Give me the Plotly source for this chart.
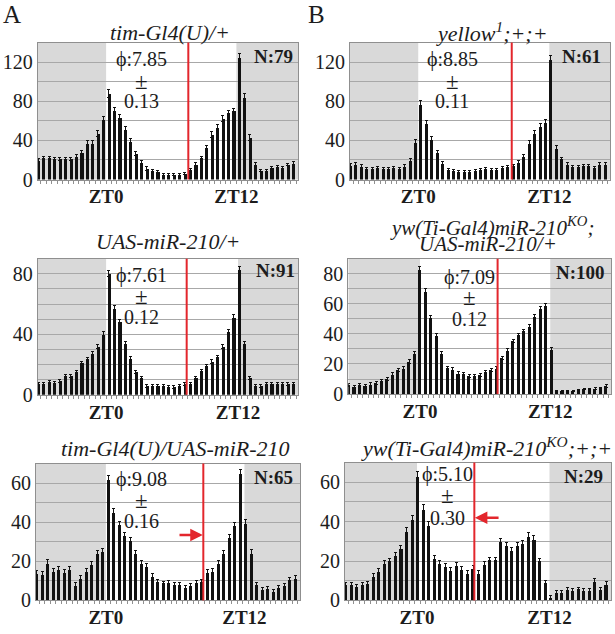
import plotly.graph_objects as go

W, H = 615, 634

# 30-min bins, ZT hours (bar positions)
zt_bins = [-6.5 + 0.5 * i for i in range(48)]

# ---- activity values (counts per 30 min) ----
tim_gl4 = [19, 22, 22, 21, 21, 21, 21, 24, 28, 37, 37, 47, 61,
           88,
           71, 63, 51, 39, 27, 17, 11, 9, 8, 5,
           5, 5, 5, 6, 10, 15, 22, 33, 46, 53,
           62, 68, 70, 125, 84, 43, 15, 9, 9, 12,
           13, 12, 15, 16]
yellow = [14, 15, 13, 11, 11, 12, 11, 11, 12, 11, 13, 19, 38,
          77,
          57, 41, 28, 16, 10, 9, 8, 8, 8, 9,
          10, 11, 10, 10, 12, 13, 14, 17, 24, 37,
          47, 54, 58, 123, 32, 21, 15, 13, 13, 14,
          14, 12, 15, 15]
uas_mir = [7, 7, 8.5, 8, 9, 12.5, 12.5, 15, 21, 23.5, 27, 32, 40,
           80,
           57, 48, 34, 24, 15, 11, 6, 6, 6, 6,
           5, 5, 6, 7, 7, 11, 16, 19, 22, 25,
           32, 42, 51, 83, 34, 11, 6, 6, 7, 7,
           7, 7, 7, 7]
ko_rescue = [6, 5, 6, 5.4, 6.5, 7.6, 8.7, 10, 13, 16.3, 17, 21.5, 26.7,
             83,
             68, 51, 38.7, 27, 17.6, 16.5, 13.7, 13.3, 12, 12,
             12.6, 14.8, 15.9, 17, 24, 29, 35.4, 39.3, 42, 45,
             51.7, 56.5, 58.7, 29.6, 2, 2, 2, 2, 2.6, 3.3,
             3.3, 3.7, 4, 5.6]
tim_uas = [13.9, 13.4, 19, 15, 16, 14.4, 16, 7.5, 11, 15, 18.5, 24, 25,
           62,
           45, 39, 33, 30.6, 24, 19, 17.3, 12.2, 9.7, 8.9,
           9.2, 8, 8, 6.4, 7.7, 9.4, 9.7, 14.2, 14.7, 19,
           24, 32.3, 38.2, 65, 39.4, 24, 8, 5.5, 5.9, 4.7,
           6.4, 7.7, 10.5, 11.4]
ko = [8, 8, 7.2, 8, 8.8, 12, 14.7, 18.8, 20, 23, 26.3, 35, 41.3,
      63,
      46, 38, 21.3, 18.8, 17, 15, 17.5, 15.5, 13.5, 16.3,
      13.8, 18.3, 20.5, 20.5, 30, 28, 25.5, 28, 29, 32.5,
      31, 20, 9, 1.3, 3.8, 3.8, 5.5, 5, 5.8, 5,
      5, 9.7, 5.5, 8.3]

# ---- error (SEM) values ----
err_tim_gl4 = [2, 2, 2, 2, 2, 2, 2, 2, 2, 3, 3, 3, 3,
               4,
               3, 3, 3, 3, 2, 2, 2, 1, 1, 1,
               1, 1, 1, 1, 1, 2, 2, 2, 3, 3,
               3, 3, 3, 4, 4, 3, 2, 1, 1, 1,
               1, 1, 1, 2]
err_yellow = [2, 2, 2, 1, 1, 1, 1, 1, 1, 1, 2, 2, 3,
              4,
              3, 3, 2, 2, 1, 1, 1, 1, 1, 1,
              1, 1, 1, 1, 1, 1, 1, 2, 2, 3,
              3, 3, 3, 4, 3, 2, 2, 1, 1, 1,
              1, 1, 2, 2]
err_uas_mir = [1, 1, 1, 1, 1, 1, 1, 1, 1, 1, 1.5, 1.5, 2,
               2,
               2, 2, 1.5, 1.5, 1, 1, 1, 1, 1, 1,
               1, 1, 1, 1, 1, 1, 1, 1, 1, 1,
               1.5, 1.5, 2, 2, 1.5, 1, 1, 1, 1, 1,
               1, 1, 1, 1]
err_ko_rescue = [1, 1, 1, 1, 1, 1, 1, 1, 1, 1, 1, 1.5, 1.5,
                 2,
                 2, 1.5, 1.5, 1.5, 1, 1, 1, 1, 1, 1,
                 1, 1, 1, 1, 1, 1, 1, 1, 1, 1,
                 1.5, 1.5, 1.5, 1.5, 0.5, 0.5, 0.5, 0.5, 0.5, 0.5,
                 0.5, 0.5, 0.5, 1]
err_tim_uas = [1.5, 1.5, 2, 1.5, 1.5, 1.5, 1.5, 1.5, 1.5, 1.5, 1.5, 1.5, 1.5,
               2,
               2, 1.5, 1.5, 1.5, 1.5, 1.5, 1.5, 1.5, 1, 1,
               1, 1, 1, 1, 1, 1, 1, 1.5, 1.5, 1.5,
               1.5, 1.5, 1.5, 2, 2, 2, 1, 1, 1, 1,
               1, 1, 1, 1.5]
err_ko = [1, 1, 1, 1, 1, 1.5, 1.5, 1.5, 1.5, 1.5, 1.5, 2, 2,
          2.5,
          2.5, 2, 1.5, 1.5, 1.5, 1.5, 1.5, 1.5, 1.5, 1.5,
          1.5, 1.5, 1.5, 1.5, 1.5, 1.5, 1.5, 1.5, 1.5, 2,
          2, 1.5, 1, 1, 1, 1, 1, 1, 1, 1,
          1, 1.5, 1, 1.5]

genotypes = ["tim-Gl4(U)/+", "yellow<sup>1</sup>;+;+", "UAS-miR-210/+",
             "yw(Ti-Gal4)miR-210<sup>KO</sup>;|UAS-miR-210/+",
             "tim-Gl4(U)/UAS-miR-210", "yw(Ti-Gal4)miR-210<sup>KO</sup>;+;+"]
series = [tim_gl4, yellow, uas_mir, ko_rescue, tim_uas, ko]
errors = [err_tim_gl4, err_yellow, err_uas_mir, err_ko_rescue, err_tim_uas, err_ko]
phi_vals = [7.85, 8.85, 7.61, 7.09, 9.08, 5.10]
phi_sem = [0.13, 0.11, 0.12, 0.12, 0.16, 0.30]
n_flies = [79, 61, 91, 100, 65, 29]
# measured positions of the red phase marker (ZT h)
phase_line = [7.32, 8.38, 7.17, 7.09, 8.66, 5.12]
lights_on = [-0.25, -0.25, -0.25, 0.0, -0.2, -0.05]
lights_off = [11.75, 11.85, 11.9, 11.9, 12.4, 11.9]
y_max = [140, 140, 90, 90, 70, 70]
y_grid = [20, 20, 10, 10, 10, 10]
y_labels = [[0, 40, 80, 120], [0, 40, 80, 120], [0, 40, 80],
            [0, 20, 40, 60, 80], [0, 20, 40, 60], [0, 20, 40, 60]]

# ---- layout geometry (pixels) ----
dom_px = [(37.7, 298.3, 43.3, 182.7), (350, 610, 43.3, 182.7),
          (37.7, 298.3, 263.3, 401.7), (348.3, 611, 263.3, 401),
          (36, 300, 471.7, 611), (345, 611, 470.7, 611)]
title_px = [(170, 33), (491, 33), (168, 246), (490, 231), (175, 456), (486, 455)]
phi_px = [(141, 61, 83, 103), (452, 61, 83, 103), (141, 280, 302, 323),
          (469, 282, 303, 325), (141, 488, 509, 530), (447, 483, 504, 527)]
n_px = [(295, 58), (603, 57), (297, 275), (607, 277), (295, 486), (605, 485)]

XR = [-6.55, 17.45]
SERIF = "Liberation Serif, Times New Roman, serif"
TXT = "#1c1c1c"
GREY = "#d9d9d9"
RED = "#e3262c"


def px(x):
    return x / W


def py(y):
    return 1 - y / H


fig = go.Figure()
shapes = []
annotations = []

for k in range(6):
    sfx = "" if k == 0 else str(k + 1)
    xr, yr = "x" + sfx, "y" + sfx
    x0, x1, yt, yb = dom_px[k]

    fig.add_trace(go.Bar(
        x=zt_bins, y=series[k], width=0.28, xaxis=xr, yaxis=yr,
        marker=dict(color="#111111", line=dict(width=0)),
        error_y=dict(type="data", array=errors[k], color="#111111",
                     thickness=1, width=1.5),
        showlegend=False, hoverinfo="skip"))

    gv = list(range(0, y_max[k] + 1, y_grid[k]))
    gt = [str(v) if v in y_labels[k] else "" for v in gv]

    fig.layout["xaxis" + sfx] = dict(
        domain=[px(x0), px(x1)], range=XR, anchor=yr,
        showgrid=False, zeroline=False, showline=True, mirror=True,
        linecolor="#8f8f8f", linewidth=1,
        tickvals=[lights_on[k], lights_off[k]],
        ticktext=["<b>ZT0</b>", "<b>ZT12</b>"], ticks="",
        tickfont=dict(family=SERIF, size=19, color=TXT),
        minor=dict(ticks="outside", tick0=-6.25, dtick=0.5, ticklen=3,
                   tickcolor="#8f8f8f", showgrid=False),
        fixedrange=True)
    fig.layout["yaxis" + sfx] = dict(
        domain=[py(yb), py(yt)], range=[0, y_max[k]], anchor=xr,
        tickvals=gv, ticktext=gt, ticks="",
        showgrid=True, gridcolor="#a8a8a8", gridwidth=1,
        zeroline=False, showline=True, mirror=True,
        linecolor="#8f8f8f", linewidth=1,
        tickfont=dict(family=SERIF, size=20, color=TXT),
        fixedrange=True)

    # light/dark shading
    for a, b in [(XR[0], lights_on[k]), (lights_off[k], XR[1])]:
        shapes.append(dict(type="rect", xref=xr, yref=yr + " domain",
                           x0=a, x1=b, y0=0, y1=1, fillcolor=GREY,
                           line=dict(width=0), layer="below"))
    # phase line
    shapes.append(dict(type="line", xref=xr, yref=yr + " domain",
                       x0=phase_line[k], x1=phase_line[k], y0=0, y1=1,
                       line=dict(color=RED, width=2), layer="above"))

    # title (second line, if any, is placed 17 px lower)
    tx, ty = title_px[k]
    parts = genotypes[k].split("|")
    for j, part in enumerate(parts):
        annotations.append(dict(text="<i>" + part + "</i>",
                                x=px(tx + (2 if len(parts) > 1 and j == 0 else -2 if j else 0)),
                                y=py(ty + 17 * j),
                                xref="paper", yref="paper", showarrow=False,
                                xanchor="center", yanchor="middle",
                                font=dict(family=SERIF, size=22 if len(parts) == 1 else 21,
                                          color=TXT)))

    # phase text
    fx, f1, f2, f3 = phi_px[k]
    for txt, yy, fs in [("ϕ:%.2f" % phi_vals[k], f1, 20), ("±", f2, 23),
                        ("%.2f" % phi_sem[k], f3, 20)]:
        annotations.append(dict(text=txt, x=px(fx), y=py(yy), xref="paper", yref="paper",
                                showarrow=False, xanchor="center", yanchor="middle",
                                font=dict(family=SERIF, size=fs, color=TXT)))
    # N label
    nx, ny = n_px[k]
    annotations.append(dict(text="<b>N:%d</b>" % n_flies[k], x=px(nx), y=py(ny),
                            xref="paper", yref="paper", showarrow=False,
                            xanchor="right", yanchor="middle",
                            font=dict(family=SERIF, size=19, color=TXT)))

# red arrows in bottom panels (pointing at the phase line)
annotations.append(dict(x=phase_line[4] - 0.05, y=33.5, ax=6.36, ay=33.5,
                        xref="x5", yref="y5", axref="x5", ayref="y5", text="",
                        showarrow=True, arrowhead=2, arrowsize=1, arrowwidth=2.5,
                        arrowcolor=RED))
annotations.append(dict(x=phase_line[5] + 0.05, y=42, ax=7.44, ay=42,
                        xref="x6", yref="y6", axref="x6", ayref="y6", text="",
                        showarrow=True, arrowhead=2, arrowsize=1, arrowwidth=2.5,
                        arrowcolor=RED))

# panel letters
for letter, lx, ly in [("A", 12, 15), ("B", 316, 15)]:
    annotations.append(dict(text=letter, x=px(lx), y=py(ly), xref="paper", yref="paper",
                            showarrow=False, xanchor="center", yanchor="middle",
                            font=dict(family=SERIF, size=25, color=TXT)))

fig.update_layout(width=W, height=H, margin=dict(l=0, r=0, t=0, b=0),
                  paper_bgcolor="white", plot_bgcolor="white",
                  bargap=0, shapes=shapes, annotations=annotations,
                  showlegend=False)

fig.write_html("out.html", config={"displayModeBar": False},
               post_script="document.body.style.margin='0px';"
                           "document.body.style.overflow='hidden';")
